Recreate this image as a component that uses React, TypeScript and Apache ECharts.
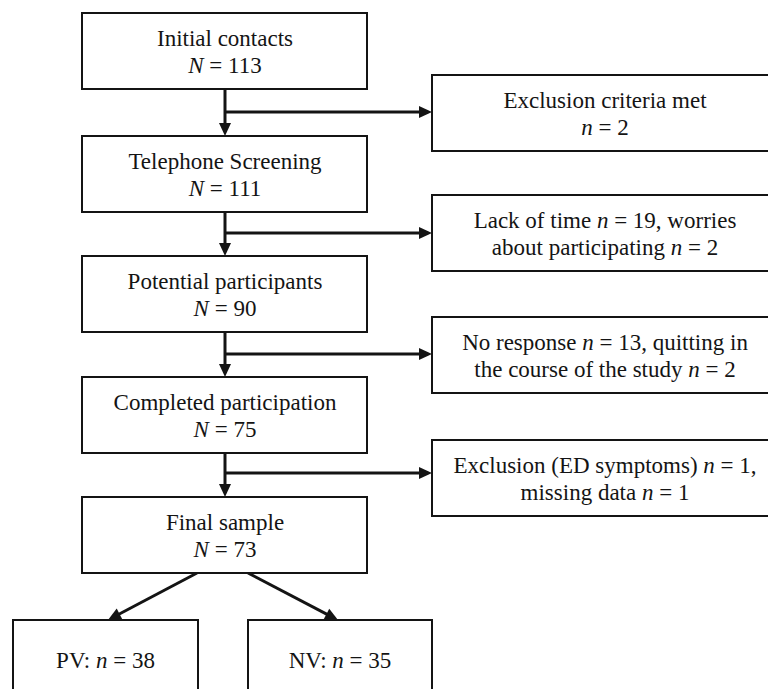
import React, { useEffect, useRef } from "react";
import * as echarts from "echarts";

// ---- content ----
const mainLabels = [
  "Initial contacts",
  "Telephone Screening",
  "Potential participants",
  "Completed participation",
  "Final sample",
];
const mainCounts = [113, 111, 90, 75, 73];
const exclusionLine1 = [
  "Exclusion criteria met",
  "Lack of time {i|n} = 19, worries",
  "No response {i|n} = 13, quitting in",
  "Exclusion (ED symptoms) {i|n} = 1,",
];
const exclusionLine2 = [
  "{i|n} = 2",
  "about participating {i|n} = 2",
  "the course of the study {i|n} = 2",
  "missing data {i|n} = 1",
];
const groupLabels = ["PV", "NV"];
const groupCounts = [38, 35];

// ---- layout (pixels) ----
const MAIN_LEFT = 82;
const MAIN_RIGHT = 367;
const MAIN_CX = 225;
const BOX_H = 76;
const mainTops = [13, 136, 256, 377, 497];
const SIDE_LEFT = 432;
const SIDE_RIGHT = 778;
const sideTops = [75, 195, 317, 440];
const branchYs = [112, 233, 354, 473];
const groupBoxes = [
  { left: 13, right: 198 },
  { left: 248, right: 432 },
];
const GROUP_TOP = 620;
const diagStarts = [
  [197, 573],
  [248, 573],
];
const diagEnds = [
  [108, 620],
  [338, 620],
];

const INK = "#141414";
const FONT = "Liberation Serif";
const FS = 23;

function textEl(x: number, y: number, text: string) {
  return {
    type: "text",
    x,
    y,
    silent: true,
    style: {
      text,
      fill: INK,
      fontFamily: FONT,
      fontSize: FS,
      align: "center",
      verticalAlign: "middle",
      rich: {
        i: { fontStyle: "italic", fontFamily: FONT, fontSize: FS, fill: INK },
        r: { fontFamily: FONT, fontSize: FS, fill: INK },
      },
    },
  };
}

function rectEl(x: number, y: number, w: number, h: number) {
  return {
    type: "rect",
    shape: { x, y, width: w, height: h },
    silent: true,
    style: { fill: "#fff", stroke: INK, lineWidth: 2 },
  };
}

function lineEl(x1: number, y1: number, x2: number, y2: number) {
  return {
    type: "line",
    shape: { x1, y1, x2, y2 },
    silent: true,
    style: { stroke: INK, lineWidth: 3 },
  };
}

function arrowHead(x1: number, y1: number, x2: number, y2: number, len = 13, half = 6) {
  const dx = x2 - x1;
  const dy = y2 - y1;
  const d = Math.sqrt(dx * dx + dy * dy);
  const ux = dx / d;
  const uy = dy / d;
  const bx = x2 - ux * len;
  const by = y2 - uy * len;
  const px = -uy;
  const py = ux;
  return {
    type: "polygon",
    silent: true,
    shape: {
      points: [
        [x2, y2],
        [bx + px * half, by + py * half],
        [bx - px * half, by - py * half],
      ],
    },
    style: { fill: INK },
  };
}

function arrow(x1: number, y1: number, x2: number, y2: number) {
  const dx = x2 - x1;
  const dy = y2 - y1;
  const d = Math.sqrt(dx * dx + dy * dy);
  const ex = x2 - (dx / d) * 8;
  const ey = y2 - (dy / d) * 8;
  return [lineEl(x1, y1, ex, ey), arrowHead(x1, y1, x2, y2)];
}

// wrap plain text portions in {r|...} so every token carries the serif font
function wrapRoman(s: string) {
  const parts = s.split(/(\{i\|[^}]*\})/);
  return parts
    .filter((p) => p.length > 0)
    .map((p) => (p.startsWith("{i|") ? p : `{r|${p}}`))
    .join("");
}

export default function App() {
  const ref = useRef<HTMLDivElement>(null);
  useEffect(() => {
    document.body.style.margin = "0";
    if (!ref.current) return;
    const chart = echarts.init(ref.current, null, { renderer: "svg" });
    const els: any[] = [];

    // connectors
    for (let k = 0; k < mainTops.length - 1; k++) {
      const y0 = mainTops[k] + BOX_H;
      const y1 = mainTops[k + 1];
      els.push(...arrow(MAIN_CX, y0, MAIN_CX, y1));
      els.push(...arrow(MAIN_CX, branchYs[k], SIDE_LEFT, branchYs[k]));
    }
    for (let g = 0; g < groupBoxes.length; g++) {
      els.push(...arrow(diagStarts[g][0], diagStarts[g][1], diagEnds[g][0], diagEnds[g][1]));
    }

    // main boxes
    mainLabels.forEach((lab, k) => {
      const top = mainTops[k];
      els.push(rectEl(MAIN_LEFT, top, MAIN_RIGHT - MAIN_LEFT, BOX_H));
      const cy = top + BOX_H / 2;
      els.push(textEl(MAIN_CX, cy - 13, wrapRoman(lab)));
      els.push(textEl(MAIN_CX, cy + 14, wrapRoman(`{i|N} = ${mainCounts[k]}`)));
    });

    // side boxes
    exclusionLine1.forEach((l1, k) => {
      const top = sideTops[k];
      els.push(rectEl(SIDE_LEFT, top, SIDE_RIGHT - SIDE_LEFT, BOX_H));
      const cx = (SIDE_LEFT + SIDE_RIGHT) / 2;
      const cy = top + BOX_H / 2;
      els.push(textEl(cx, cy - 13, wrapRoman(l1)));
      els.push(textEl(cx, cy + 14, wrapRoman(exclusionLine2[k])));
    });

    // group boxes
    groupLabels.forEach((g, k) => {
      const b = groupBoxes[k];
      els.push(rectEl(b.left, GROUP_TOP, b.right - b.left, 120));
      els.push(textEl((b.left + b.right) / 2, 660, wrapRoman(`${g}: {i|n} = ${groupCounts[k]}`)));
    });

    chart.setOption({
      animation: false,
      backgroundColor: "#fff",
      graphic: { elements: els },
    });
    return () => chart.dispose();
  }, []);
  return <div ref={ref} style={{ width: 768, height: 689 }} />;
}
